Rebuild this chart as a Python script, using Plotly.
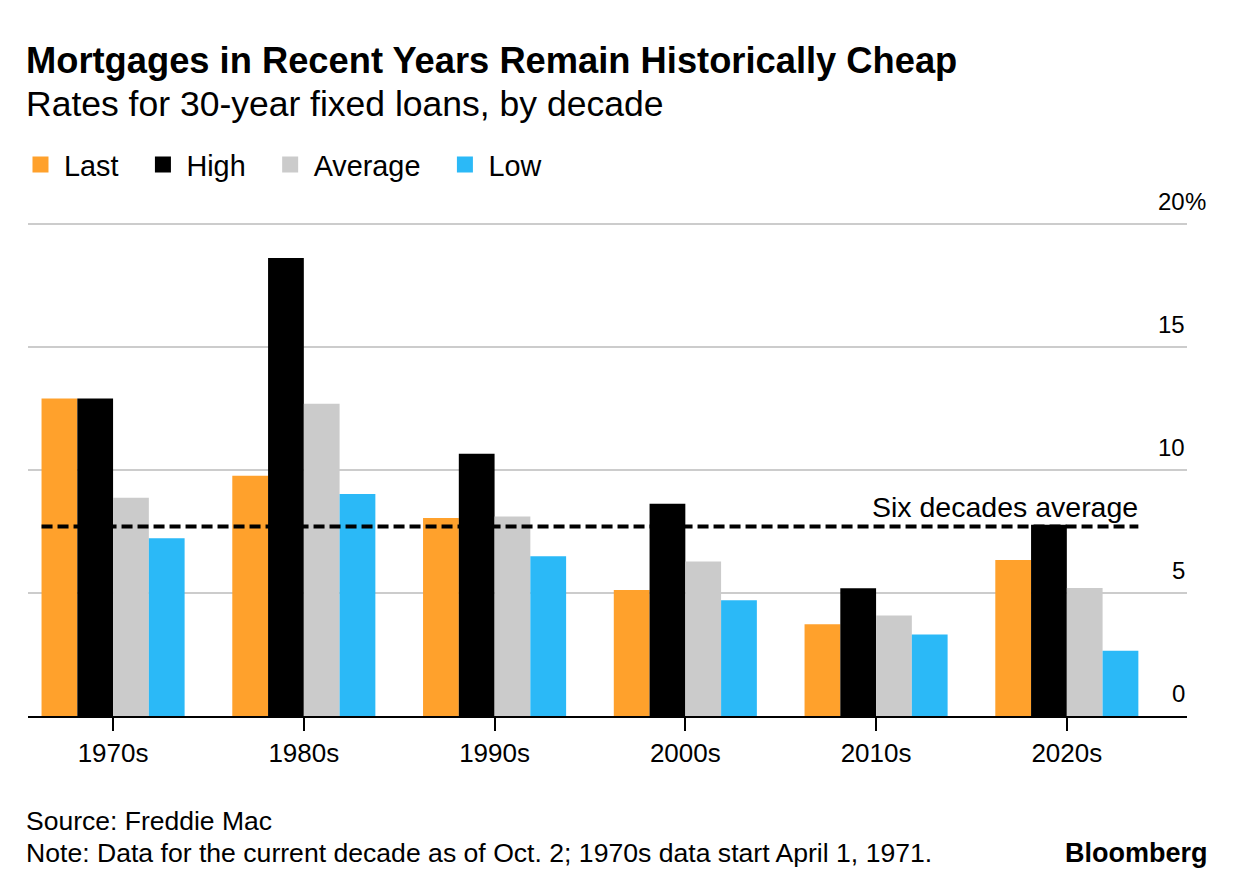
import plotly.graph_objects as go

decades = ["1970s", "1980s", "1990s", "2000s", "2010s", "2020s"]
last_vals = [12.90, 9.76, 8.05, 5.12, 3.73, 6.34]
high_vals = [12.90, 18.61, 10.66, 8.63, 5.19, 7.77]
avg_vals = [8.87, 12.69, 8.11, 6.28, 4.08, 5.20]
low_vals = [7.22, 9.02, 6.49, 4.70, 3.31, 2.65]
six_decade_avg = 7.70
series_names = ["Last", "High", "Average", "Low"]
series_colors = ["#FFA12C", "#000000", "#CBCBCB", "#2BB9F7"]
y_ticks = [0, 5, 10, 15, 20]
y_tick_labels = ["0", "5", "10", "15", "20"]
y_suffix = "%"

FONT = "Liberation Sans"
BARGAP = 0.25
LEGEND_PAD = "&nbsp;&nbsp;"

fig = go.Figure()
for name, vals, col in zip(series_names, [last_vals, high_vals, avg_vals, low_vals], series_colors):
    fig.add_trace(go.Bar(x=decades, y=vals, name=name, marker=dict(color=col, line=dict(width=0)),
                         showlegend=False))
# legend entries with larger square symbols
for name, col in zip(series_names, series_colors):
    fig.add_trace(go.Scatter(x=[None], y=[None], mode="markers", name=name + LEGEND_PAD,
                             marker=dict(symbol="square", size=19, color=col)))

half = (1 - BARGAP) / 2
fig.add_shape(type="line", xref="x", yref="y", x0=-half, x1=len(decades) - 1 + half,
              y0=six_decade_avg, y1=six_decade_avg,
              line=dict(color="black", width=4, dash="11px,5px"), layer="above")

ann = []
ann.append(dict(x=len(decades) - 1 + half, y=six_decade_avg, xref="x", yref="y",
                text="Six decades average", showarrow=False, xanchor="right", yanchor="bottom",
                yshift=2, xshift=2, font=dict(family=FONT, size=28.5, color="black")))
for v, t in zip(y_ticks, y_tick_labels):
    ann.append(dict(x=1, y=v, xref="paper", yref="y", text=t, showarrow=False,
                    xanchor="right", yanchor="bottom", yshift=7,
                    font=dict(family=FONT, size=24, color="black")))
ann.append(dict(x=1, y=y_ticks[-1], xref="paper", yref="y", text=y_suffix, showarrow=False,
                xanchor="left", yanchor="bottom", yshift=7, xshift=-4,
                font=dict(family=FONT, size=24, color="black")))
ann.append(dict(x=0, y=1.318, xref="paper", yref="paper", xanchor="left", yanchor="middle",
                text="<b>Mortgages in Recent Years Remain Historically Cheap</b>", showarrow=False,
                xshift=-4, font=dict(family=FONT, size=36.3, color="black")))
ann.append(dict(x=0, y=1.231, xref="paper", yref="paper", xanchor="left", yanchor="middle",
                text="Rates for 30-year fixed loans, by decade", showarrow=False,
                xshift=-4, font=dict(family=FONT, size=35.5, color="black")))
ann.append(dict(x=0, y=-0.211, xref="paper", yref="paper", xanchor="left", yanchor="middle",
                text="Source: Freddie Mac", showarrow=False,
                xshift=-4, font=dict(family=FONT, size=26.5, color="black")))
ann.append(dict(x=0, y=-0.276, xref="paper", yref="paper", xanchor="left", yanchor="middle",
                text="Note: Data for the current decade as of Oct. 2; 1970s data start April 1, 1971.",
                showarrow=False, xshift=-4, font=dict(family=FONT, size=26.6, color="black")))
ann.append(dict(x=1.018, y=-0.276, xref="paper", yref="paper", xanchor="right", yanchor="middle",
                text="<b>Bloomberg</b>", showarrow=False, xshift=2,
                font=dict(family=FONT, size=27, color="black")))

fig.update_layout(
    width=1229, height=886,
    margin=dict(l=20, r=50, t=211, b=178, autoexpand=False),
    paper_bgcolor="white", plot_bgcolor="white",
    barmode="group", bargap=BARGAP, bargroupgap=0,
    font=dict(family=FONT, size=24, color="black"),
    annotations=ann,
    legend=dict(orientation="h", x=-0.0095, xanchor="left", y=1.109, yanchor="middle",
                font=dict(family=FONT, size=28.8, color="black"), bgcolor="rgba(0,0,0,0)",
                itemclick=False, tracegroupgap=0, itemwidth=37),
    xaxis=dict(type="category", range=[-0.446, 5.63], showgrid=False, showline=True,
               linecolor="black", linewidth=2, ticks="outside", ticklen=13, tickwidth=2,
               tickcolor="black", tickfont=dict(family=FONT, size=26, color="black"),
               fixedrange=True, zeroline=False),
    yaxis=dict(range=[0, 20.2], tickvals=y_ticks, showticklabels=False, showgrid=True,
               gridcolor="#CCCCCC", gridwidth=1.5, zeroline=False, showline=False,
               ticks="", fixedrange=True),
)

fig.write_html("out.html")
